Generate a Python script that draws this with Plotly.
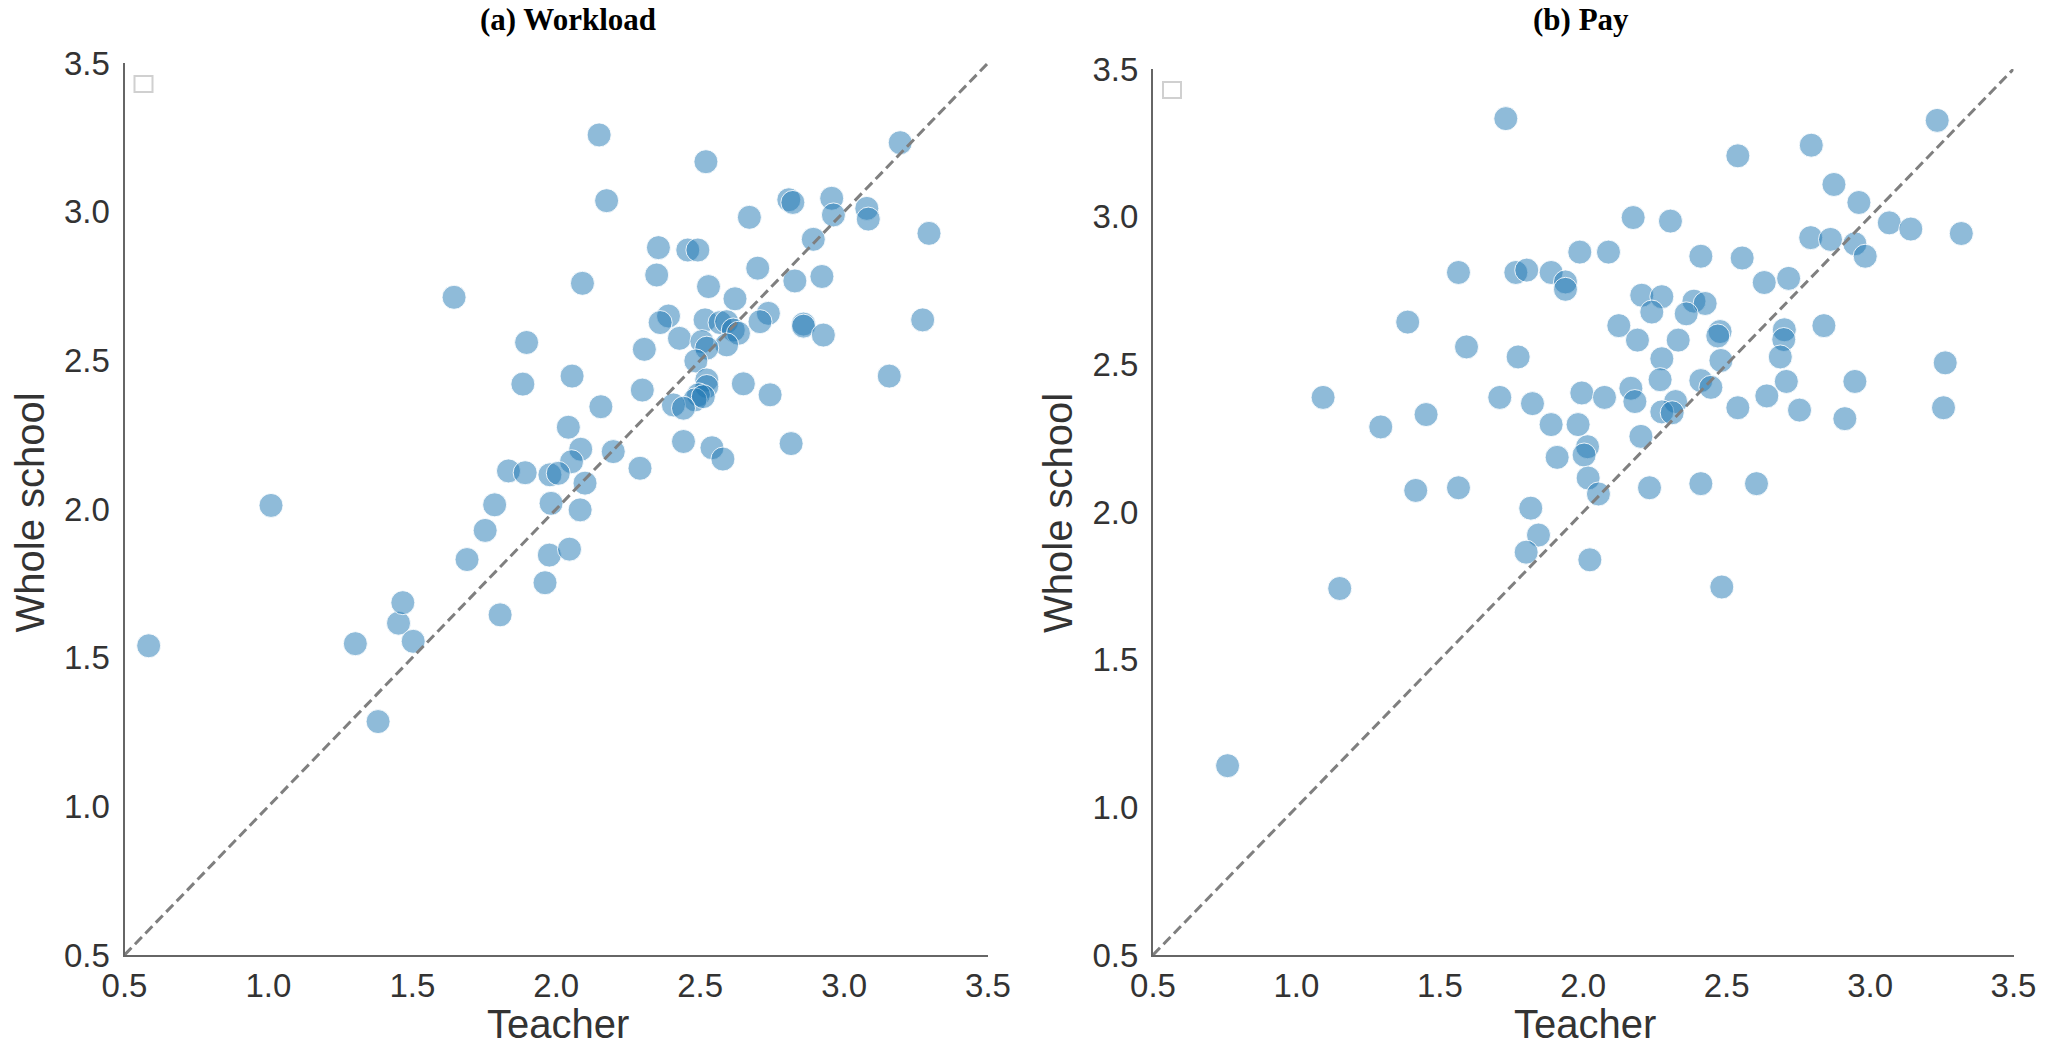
import plotly.graph_objects as go

W, H = 2063, 1049

# ---- Data: (a) Workload ----
workload_teacher = [
    2.149, 2.520, 3.195, 2.175, 2.808, 2.822, 2.957, 2.963, 3.079, 3.084,
    2.671, 3.295, 2.893, 2.355, 2.457, 2.492, 2.349, 2.700, 2.829, 2.923,
    2.091, 2.529, 2.621, 2.390, 2.361, 2.517, 2.569, 2.592, 2.737, 2.708,
    2.859, 2.859, 2.928, 3.273, 1.897, 2.428, 2.615, 2.633, 2.592, 2.506,
    2.523, 2.306, 2.485, 1.884, 2.055, 2.299, 2.523, 2.523, 2.650, 2.743,
    2.494, 2.482, 2.511, 2.407, 2.442, 3.157, 2.155, 2.042, 2.442, 2.541,
    2.579, 2.816, 2.085, 2.198, 2.053, 2.291, 1.834, 1.892, 1.978, 2.007,
    2.100, 1.786, 1.982, 2.083, 1.976, 2.046, 1.961,
    0.584, 1.302, 1.381, 1.452, 1.467, 1.503, 1.690, 1.753, 1.805, 1.009, 1.645,
]
workload_school = [
    3.258, 3.168, 3.232, 3.037, 3.040, 3.031, 3.045, 2.989, 3.011, 2.975,
    2.981, 2.927, 2.907, 2.879, 2.871, 2.871, 2.787, 2.810, 2.767, 2.782,
    2.759, 2.748, 2.707, 2.649, 2.627, 2.636, 2.627, 2.630, 2.658, 2.630,
    2.622, 2.615, 2.585, 2.636, 2.560, 2.574, 2.602, 2.591, 2.552, 2.563,
    2.541, 2.537, 2.498, 2.420, 2.447, 2.400, 2.434, 2.412, 2.421, 2.384,
    2.384, 2.367, 2.378, 2.350, 2.339, 2.447, 2.344, 2.275, 2.227, 2.206,
    2.168, 2.220, 2.201, 2.193, 2.159, 2.137, 2.128, 2.122, 2.115, 2.120,
    2.087, 2.014, 2.019, 1.997, 1.845, 1.865, 1.752,
    1.540, 1.547, 1.285, 1.616, 1.685, 1.555, 1.830, 1.928, 1.644, 2.012, 2.712,
]

# ---- Data: (b) Pay ----
pay_teacher = [
    1.730, 2.539, 2.795, 3.234, 2.874, 2.961, 2.174, 2.304, 3.067, 3.142,
    3.318, 1.988, 2.088, 2.410, 2.554, 2.793, 2.862, 2.947, 2.983, 1.565,
    1.765, 1.803, 1.888, 1.938, 1.938, 2.631, 2.716, 2.204, 2.274, 2.239,
    2.386, 2.425, 2.359, 2.477, 2.469, 2.701, 2.699, 2.839, 2.687, 2.708,
    1.388, 2.124, 2.189, 2.331, 1.593, 1.773, 2.274, 2.480, 3.262, 2.268,
    2.410, 2.445, 2.947, 1.093, 1.709, 1.995, 2.074, 2.166, 2.180, 1.823,
    2.322, 2.274, 2.310, 2.539, 2.640, 2.754, 3.256, 2.912, 1.452, 1.294,
    1.888, 1.982, 2.201, 2.015, 2.003, 1.909, 2.017, 2.053, 1.416, 1.565,
    2.231, 2.410, 2.604, 1.817, 1.844, 1.801, 2.023, 1.151, 2.483, 0.760,
]
pay_school = [
    3.332, 3.206, 3.242, 3.326, 3.109, 3.048, 2.997, 2.985, 2.979, 2.958,
    2.943, 2.880, 2.880, 2.866, 2.860, 2.929, 2.923, 2.908, 2.866, 2.811,
    2.811, 2.819, 2.811, 2.779, 2.754, 2.777, 2.791, 2.734, 2.729, 2.677,
    2.714, 2.706, 2.671, 2.611, 2.596, 2.617, 2.584, 2.631, 2.525, 2.442,
    2.643, 2.631, 2.582, 2.582, 2.559, 2.525, 2.519, 2.513, 2.505, 2.448,
    2.445, 2.422, 2.442, 2.388, 2.388, 2.403, 2.388, 2.419, 2.374, 2.367,
    2.374, 2.339, 2.336, 2.353, 2.393, 2.345, 2.353, 2.316, 2.330, 2.288,
    2.296, 2.296, 2.256, 2.221, 2.193, 2.185, 2.115, 2.061, 2.073, 2.082,
    2.082, 2.096, 2.096, 2.013, 1.922, 1.864, 1.838, 1.741, 1.746, 1.141,
]

panel_titles = ["(a) Workload", "(b) Pay"]
x_label = "Teacher"
y_label = "Whole school"
axis_min, axis_max = 0.5, 3.5
tick_vals = [0.5, 1.0, 1.5, 2.0, 2.5, 3.0, 3.5]

# ---- Styling ----
POINT_COLOR = "rgba(31,119,180,0.5)"
TICK_FONT = dict(family="Liberation Sans, Arial, sans-serif", size=33, color="#333333")
LABEL_FONT = dict(family="Liberation Sans, Arial, sans-serif", size=40, color="#333333")
TITLE_FONT = dict(family="Liberation Serif, Times New Roman, serif", size=31, color="#000000")
AXIS_COLOR = "#666666"

def px_x(p):
    return p / W

def px_y(p):
    return 1 - p / H

# pixel layout of the two axes
panels = [
    dict(x0=124.5, x1=988.0, y0=63.0, y1=955.0, title_x=568),
    dict(x0=1153.0, x1=2013.5, y0=69.0, y1=955.0, title_x=1581),
]

fig = go.Figure()

data = [(workload_teacher, workload_school), (pay_teacher, pay_school)]
for i, (tx, sy) in enumerate(data):
    xa = "x" if i == 0 else "x2"
    ya = "y" if i == 0 else "y2"
    fig.add_trace(go.Scatter(
        x=tx, y=sy, mode="markers", xaxis=xa, yaxis=ya,
        marker=dict(size=24, color=POINT_COLOR,
                    line=dict(color="rgba(255,255,255,0.85)", width=1)),
        showlegend=False, hoverinfo="x+y",
    ))
    fig.add_trace(go.Scatter(
        x=[axis_min, axis_max], y=[axis_min, axis_max], mode="lines",
        xaxis=xa, yaxis=ya,
        line=dict(color="#7f7f7f", width=3, dash="10px,5px"),
        showlegend=False, hoverinfo="skip",
    ))

annotations = []
shapes = []
for i, p in enumerate(panels):
    sfx = "" if i == 0 else "2"
    xaxis = dict(
        domain=[px_x(p["x0"]), px_x(p["x1"])],
        range=[axis_min, axis_max],
        tickvals=tick_vals, tickformat=".1f",
        showgrid=False, zeroline=False,
        showline=True, linecolor=AXIS_COLOR, linewidth=2,
        ticks="",
        tickfont=TICK_FONT, automargin=False,
        anchor="y" + sfx,
    )
    yaxis = dict(
        domain=[px_y(p["y1"]), px_y(p["y0"])],
        range=[axis_min, axis_max],
        tickvals=tick_vals, tickformat=".1f",
        showgrid=False, zeroline=False,
        showline=True, linecolor=AXIS_COLOR, linewidth=2,
        ticks="outside", ticklen=6, tickcolor="rgba(0,0,0,0)",
        tickfont=TICK_FONT, automargin=False,
        anchor="x" + sfx,
    )
    fig.update_layout(**{"xaxis" + sfx: xaxis, "yaxis" + sfx: yaxis})

    # panel title
    annotations.append(dict(
        text="<b>" + panel_titles[i] + "</b>", x=px_x(p["title_x"]), y=px_y(20),
        xref="paper", yref="paper", xanchor="center", yanchor="middle",
        showarrow=False, font=TITLE_FONT,
    ))
    # axis labels
    annotations.append(dict(
        text=x_label, x=px_x((p["x0"] + p["x1"]) / 2 + 2), y=px_y(1024),
        xref="paper", yref="paper", xanchor="center", yanchor="middle",
        showarrow=False, font=LABEL_FONT,
    ))
    annotations.append(dict(
        text=y_label, x=px_x(p["x0"] - 95), y=px_y(513),
        xref="paper", yref="paper", xanchor="center", yanchor="middle",
        showarrow=False, font=LABEL_FONT, textangle=-90,
    ))
    # empty legend box
    lx = p["x0"] + 10
    ly = p["y0"] + 13
    shapes.append(dict(
        type="rect", xref="paper", yref="paper",
        x0=px_x(lx), x1=px_x(lx + 18), y0=px_y(ly + 16), y1=px_y(ly),
        line=dict(color="#d0d0d0", width=2), fillcolor="rgba(255,255,255,0.8)",
    ))

fig.update_layout(
    width=W, height=H,
    margin=dict(l=0, r=0, t=0, b=0, autoexpand=False),
    paper_bgcolor="white", plot_bgcolor="white",
    annotations=annotations, shapes=shapes,
    showlegend=False,
)

fig.write_html("out.html", include_plotlyjs=True, full_html=True,
               config={"displayModeBar": False})
